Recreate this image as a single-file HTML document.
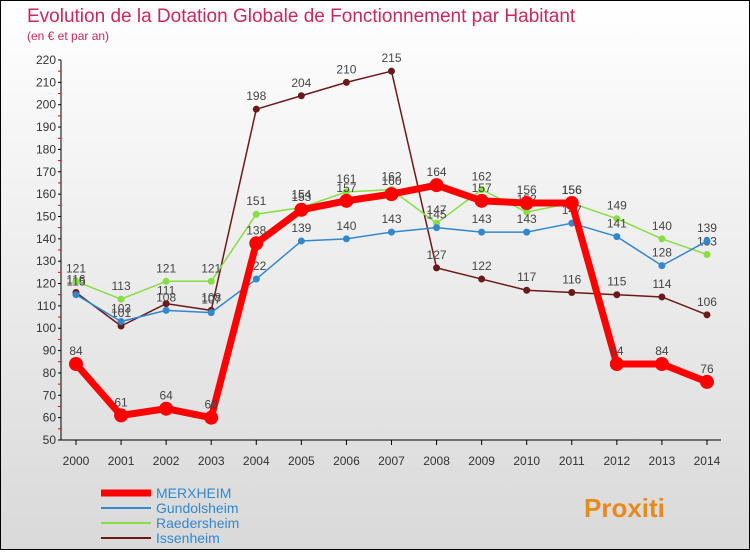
<!DOCTYPE html>
<html><head><meta charset="utf-8"><style>
body{margin:0;width:750px;height:550px;overflow:hidden;font-family:"Liberation Sans",sans-serif}
#c{position:absolute;left:0;top:0;width:748px;height:548px;border:1px solid #000;background:linear-gradient(#ffffff,#d9d9d9)}
</style></head><body>
<div id="c">
<svg id="s" width="748" height="548"></svg>
</div>
<script>
const years=[2000,2001,2002,2003,2004,2005,2006,2007,2008,2009,2010,2011,2012,2013,2014];
const merxheim=[84,61,64,60,138,153,157,160,164,157,156,156,84,84,76];
const gundolsheim=[115,103,108,107,122,139,140,143,145,143,143,147,141,128,139];
const raedersheim=[121,113,121,121,151,154,161,162,147,162,152,156,149,140,133];
const issenheim=[116,101,111,108,198,204,210,215,127,122,117,116,115,114,106];
const yTicks=[50,60,70,80,90,100,110,120,130,140,150,160,170,180,190,200,210,220];
const NS='http://www.w3.org/2000/svg';
const s=document.getElementById('s');
const x=i=>75+i*45.07;
const y=v=>439-(v-50)*380/170;
function el(t,a,p){const e=document.createElementNS(NS,t);for(const k in a)e.setAttribute(k,a[k]);(p||s).appendChild(e);return e;}
function tx(t,a,txt){const e=el(t,a);e.textContent=txt;return e;}
let e;
e=tx('text',{x:26,y:21,'font-size':19,fill:'#c8285a'},'Evolution de la Dotation Globale de Fonctionnement par Habitant');

e=tx('text',{x:26,y:39,'font-size':12,fill:'#c8285a'},'(en € et par an)');

e=el('line',{x1:60,y1:59,x2:60,y2:439,stroke:'#000'});

e=el('line',{x1:60,y1:439,x2:720,y2:439,stroke:'#000'});

yTicks.forEach(v=>{
 el('line',{x1:57,y1:y(v),x2:60,y2:y(v),stroke:'#000'});
 if(v<220)el('line',{x1:57,y1:y(v+5),x2:60,y2:y(v+5),stroke:'#e00'});
 e=tx('text',{x:55,y:y(v)+4,'font-size':12,fill:'#333','text-anchor':'end'},v);
 
});
years.forEach((yr,i)=>{
 el('line',{x1:x(i),y1:439,x2:x(i),y2:444,stroke:'#000'});
 e=tx('text',{x:x(i),y:464,'font-size':12,fill:'#333','text-anchor':'middle'},yr);
 
});
function series(d,col,w,r,name){
 const g=el('g',{});
 
 el('polyline',{points:d.map((v,i)=>x(i)+','+y(v)).join(' '),fill:'none',stroke:col,'stroke-width':w,'stroke-linejoin':'round'},g);
 d.forEach((v,i)=>{
  const c=el('circle',{cx:x(i),cy:y(v),r:r,fill:col},g);
  
  const t=el('text',{x:x(i),y:y(v)-9,'font-size':12,fill:'#444','text-anchor':'middle'},g);t.textContent=v;
 });
}
series(issenheim,'#6b1a1a',1.5,3.5,'issenheim');
series(raedersheim,'#88dd44',1.5,3.5,'raedersheim');
series(gundolsheim,'#3388cc',1.5,3.5,'gundolsheim');
series(merxheim,'#ff0000',7,7,'merxheim');
const leg=[['MERXHEIM','#ff0000',7],['Gundolsheim','#3388cc',2],['Raedersheim','#88dd44',2],['Issenheim','#6b1a1a',2]];
leg.forEach((l,i)=>{
 const g=el('g',{});
 
 const yy=492+i*15;
 el('line',{x1:100,y1:yy,x2:150,y2:yy,stroke:l[1],'stroke-width':l[2]},g);
 const t=el('text',{x:155,y:yy+5,'font-size':14,fill:'#3388cc'},g);t.textContent=l[0];
});
e=tx('text',{x:583,y:516,'font-size':26,'font-weight':'bold',fill:'#e88a1a'},'Proxiti');

</script>
</body></html>
